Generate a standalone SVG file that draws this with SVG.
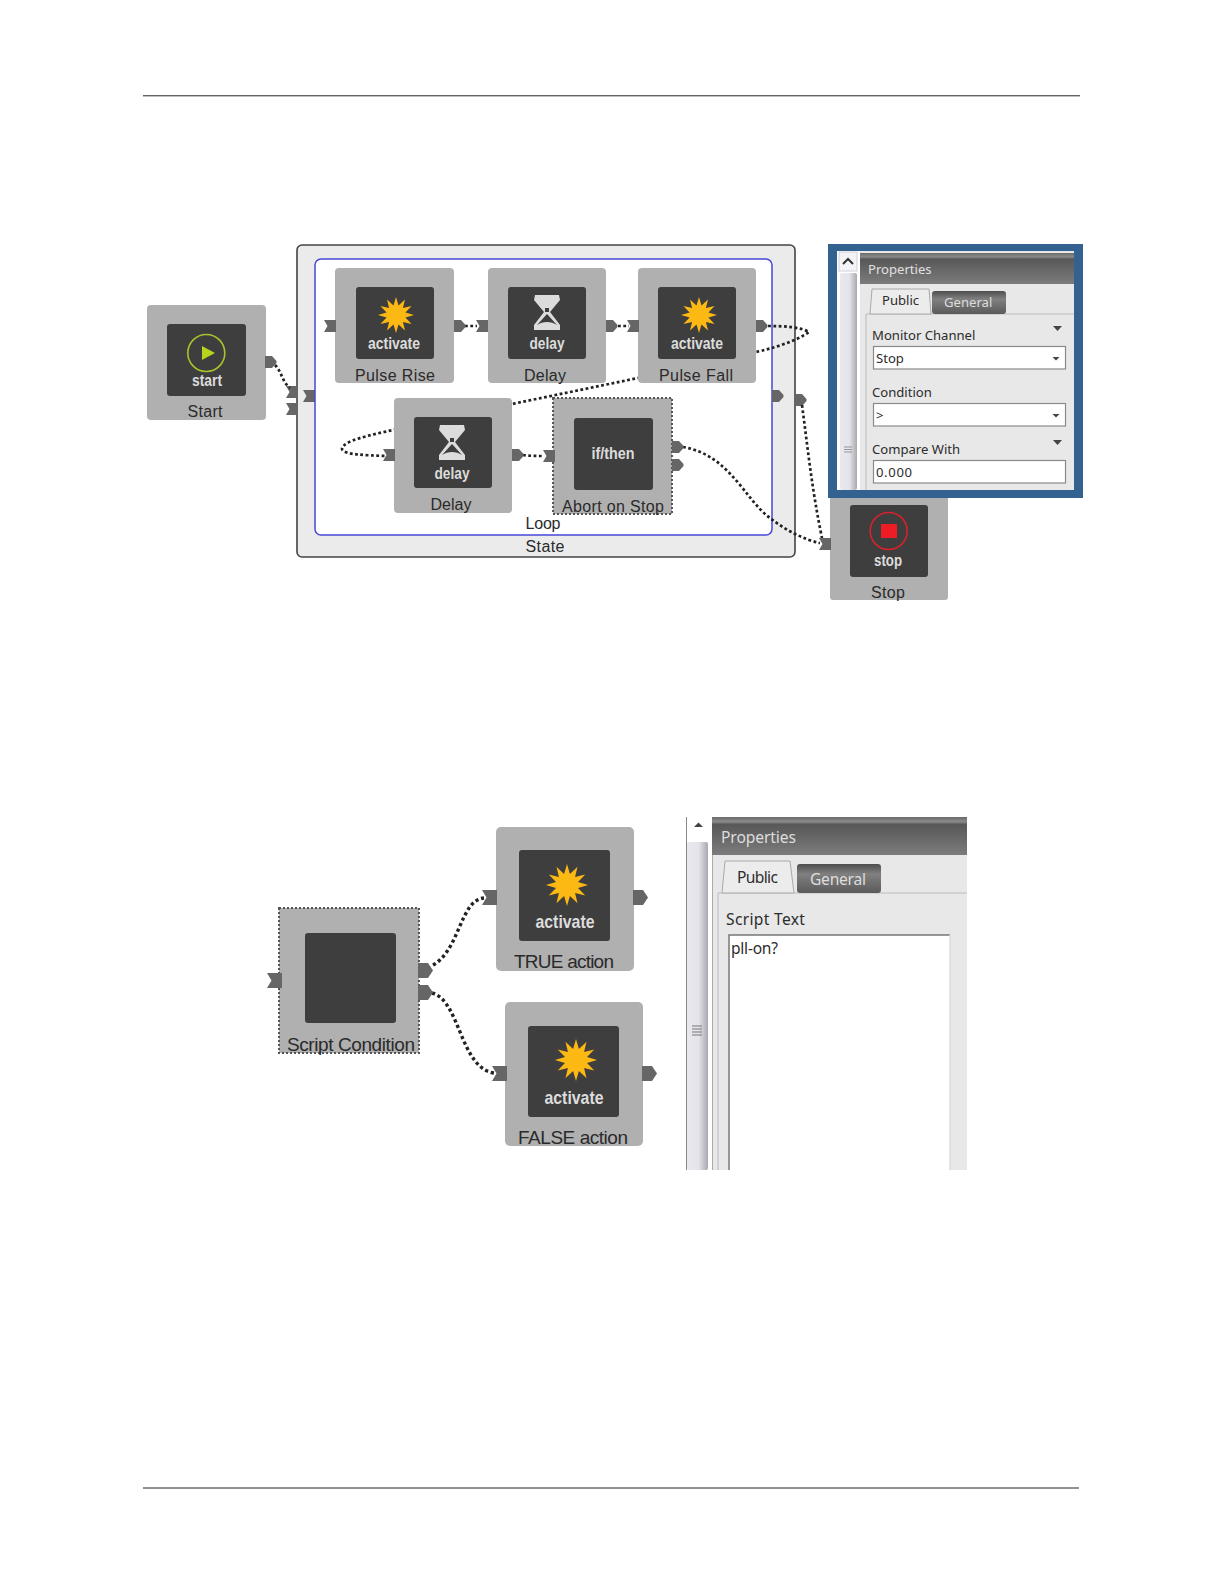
<svg xmlns="http://www.w3.org/2000/svg" width="1224" height="1584" viewBox="0 0 1224 1584">
<style>
text{font-family:"Liberation Sans",Arial,sans-serif}
.node{fill:#b0b0b0}
.dark{fill:#3e3e3e}
.lbl{font-size:16px;fill:#2a2a2a;text-anchor:middle}
.lbl2{font-size:19px;fill:#2a2a2a;text-anchor:middle}
.ico{font-size:16px;font-weight:bold;fill:#dcdcdc;text-anchor:middle}
.ico2{font-size:19px;font-weight:bold;fill:#dcdcdc;text-anchor:middle}
.port{fill:#666}
.sel{fill:none;stroke:#555;stroke-width:2;stroke-dasharray:2 2}
.wire{fill:none;stroke:#222;stroke-width:2.7;stroke-dasharray:2.8 2.5}
.wire2{fill:none;stroke:#222;stroke-width:3.4;stroke-dasharray:3.2 2.8}
.ui{font-family:"Noto Sans","Open Sans",sans-serif;font-size:13.1px;fill:#2c2c2c}
.ui2{font-family:"Noto Sans","Open Sans",sans-serif;font-size:15.6px;fill:#2c2c2c}
.field{fill:#fff;stroke:#8a8a8a;stroke-width:1.2}
.tri{fill:#444}
</style>
<defs>
<polygon id="star" fill="#fdb913" points="0,-18 2.5,-9.400 9,-15.600 6.900,-6.900 15.600,-9 9.400,-2.500 18,0 9.400,2.500 15.600,9 6.900,6.900 9,15.600 2.500,9.400 0,18 -2.500,9.400 -9,15.600 -6.900,6.900 -15.600,9 -9.400,2.500 -18,0 -9.400,-2.500 -15.600,-9 -6.900,-6.900 -9,-15.600 -2.500,-9.400"/>
<g id="glass"><path fill="#dcdcdc" d="M-12 0H12L13 5L3 17L13 30V35H-13V30L-3 17L-13 5Z"/><path fill="#3e3e3e" d="M0 19L10 30C4 26 -4 26 -10 30ZM-2 13H2V17H-2Z"/></g>
<polygon id="in" class="port" points="0,0 12,0 12,12 0,12 3.500,6"/>
<path id="out" class="port" d="M0 0H7L11.500 5L11.500 7L7 12H0Z"/>
<polygon id="in2" class="port" points="0,0 15,0 15,15 0,15 4.500,7.500"/>
<path id="out2" class="port" d="M0 0H10L15 7.500L10 15H0Z"/>
<linearGradient id="hdr" x1="0" y1="0" x2="0" y2="1"><stop offset="0" stop-color="#6a6a6a"/><stop offset=".12" stop-color="#8a8a8a"/><stop offset=".2" stop-color="#585858"/><stop offset="1" stop-color="#7c7c7c"/></linearGradient>
<linearGradient id="tab" x1="0" y1="0" x2="0" y2="1"><stop offset="0" stop-color="#4e4e4e"/><stop offset=".35" stop-color="#808080"/><stop offset="1" stop-color="#5a5a5a"/></linearGradient>
<linearGradient id="sb" x1="0" y1="0" x2="1" y2="0"><stop offset="0" stop-color="#e8e8ee"/><stop offset=".55" stop-color="#e4e4ea"/><stop offset="1" stop-color="#a8a8b0"/></linearGradient>
</defs>
<rect width="1224" height="1584" fill="#fff"/>
<line x1="143" y1="95.800" x2="1080" y2="95.800" stroke="#222" stroke-width="1"/>
<line x1="143" y1="1488" x2="1079" y2="1488" stroke="#222" stroke-width="1"/>

<g id="state"><rect x="297" y="245" width="498" height="312" rx="5" fill="#ebebeb" stroke="#444" stroke-width="1.600"/><text class="lbl" x="545" y="552" textLength="39">State</text>
<use href="#in" x="303" y="390"/><use href="#in" x="286" y="386"/><use href="#in" x="286" y="403"/><use href="#out" x="795" y="394"/></g>
<g id="loop"><rect x="315" y="259" width="457" height="276" rx="6" fill="#fff" stroke="#4848d8" stroke-width="1.500"/><text class="lbl" x="543" y="529" textLength="35">Loop</text><use href="#out" x="772" y="390"/></g>

<g id="connectors">
<path class="wire" d="M275 365C282 372 282 382 290 388"/>
<path class="wire" d="M465 326H477"/>
<path class="wire" d="M618 326H629"/>
<path class="wire" d="M768 326C785 326 800 327 809 332C795 342 770 349 756 352L638 378L512 404L393 430C370 435 342 441 342 449C344 455 365 455 385 456"/>
<path class="wire" d="M523 455C530 456 537 456 544 456"/>
<path class="wire" d="M683 447C730 455 745 500 770 518C785 530 805 540 820 543"/>
<path class="wire" d="M802 405C808 450 812 490 822 538"/>
<path class="wire2" d="M433 965C460 950 460 900 484 898"/>
<path class="wire2" d="M432 993C460 1000 460 1068 494 1073"/>
</g>

<g id="start"><rect class="node" x="147" y="305" width="119" height="115" rx="4"/><rect class="dark" x="167" y="324" width="79" height="72" rx="3"/><circle cx="206.300" cy="353" r="18.500" fill="none" stroke="#a6c62c" stroke-width="1.600"/><polygon points="202,346 215,353 202,360" fill="#b5d41e"/><text class="ico" x="207" y="386" textLength="30" lengthAdjust="spacingAndGlyphs">start</text><text class="lbl" x="205" y="417" textLength="35">Start</text><use href="#out" x="265" y="356"/></g>

<g id="pulse-rise"><rect class="node" x="335" y="268" width="119" height="115" rx="4"/><rect class="dark" x="356" y="287" width="78" height="72" rx="3"/><use href="#star" x="396" y="315"/><text class="ico" x="394" y="349" textLength="52" lengthAdjust="spacingAndGlyphs">activate</text><text class="lbl" x="395" y="380.500" textLength="80">Pulse Rise</text><use href="#in" x="324" y="320"/><use href="#out" x="454" y="320"/></g>

<g id="delay1"><rect class="node" x="488" y="268" width="118" height="115" rx="4"/><rect class="dark" x="508" y="287" width="78" height="72" rx="3"/><use href="#glass" x="547" y="295"/><text class="ico" x="547" y="349" textLength="35" lengthAdjust="spacingAndGlyphs">delay</text><text class="lbl" x="545" y="380.500" textLength="42">Delay</text><use href="#in" x="476" y="320"/><use href="#out" x="606" y="320"/></g>

<g id="pulse-fall"><rect class="node" x="638" y="268" width="118" height="115" rx="4"/><rect class="dark" x="658" y="287" width="78" height="72" rx="3"/><use href="#star" x="699" y="315"/><text class="ico" x="697" y="349" textLength="52" lengthAdjust="spacingAndGlyphs">activate</text><text class="lbl" x="696" y="380.500" textLength="74">Pulse Fall</text><use href="#in" x="627" y="320"/><use href="#out" x="756" y="320"/></g>

<g id="delay2"><rect class="node" x="394" y="398" width="118" height="115" rx="4"/><rect class="dark" x="414" y="417" width="78" height="71" rx="3"/><use href="#glass" x="452" y="425"/><text class="ico" x="452" y="479" textLength="35" lengthAdjust="spacingAndGlyphs">delay</text><text class="lbl" x="451" y="510" textLength="41">Delay</text><use href="#in" x="383" y="449"/><use href="#out" x="512" y="449"/></g>

<g id="abort"><rect class="node" x="553" y="398" width="119" height="116"/><rect class="sel" x="553" y="398" width="119" height="116"/><rect class="dark" x="574" y="418" width="79" height="72" rx="3"/><text class="ico" x="613" y="459" textLength="43" lengthAdjust="spacingAndGlyphs">if/then</text><text class="lbl" x="613" y="512" textLength="102">Abort on Stop</text><use href="#in" x="543" y="450"/><use href="#out" x="672" y="441"/><use href="#out" x="672" y="459"/></g>

<g id="stop"><path class="node" d="M830 490H948V597Q948 600 945 600H833Q830 600 830 597Z"/><rect class="dark" x="850" y="505" width="78" height="72" rx="3"/><circle cx="888.700" cy="531" r="18.500" fill="none" stroke="#d6222a" stroke-width="1.600"/><rect x="881" y="524" width="16" height="14" fill="#ee1c25"/><text class="ico" x="888" y="566" textLength="28" lengthAdjust="spacingAndGlyphs">stop</text><text class="lbl" x="888" y="598" textLength="34">Stop</text><use href="#in" x="819" y="538"/></g>

<g id="panel1">
<rect x="828" y="244" width="255" height="254" fill="#336190"/>
<rect x="837" y="251" width="237" height="239" fill="#e8e8e8"/>
<rect x="837" y="251" width="23" height="239" fill="#fff"/>
<rect x="839" y="252" width="18" height="19" fill="#f4f4f8" stroke="#c8c8d0" stroke-width=".8"/>
<path d="M843 264L848 259L853 264" fill="none" stroke="#333" stroke-width="2"/>
<rect x="840" y="273" width="17" height="217" rx="2" fill="url(#sb)"/>
<path d="M844 447H852M844 449.500H852M844 452H852" stroke="#999" stroke-width="1"/>
<rect x="860" y="253" width="214" height="31" fill="url(#hdr)"/>
<text class="ui" x="868" y="274" style="fill:#e0e0e0">Properties</text>
<path d="M866 490V314H1074" fill="none" stroke="#bbb" stroke-width="1"/>
<rect x="932" y="291" width="74" height="23" rx="3" fill="url(#tab)"/>
<text class="ui" x="944" y="307" style="fill:#ddd">General</text>
<path d="M870 314L872 289H929L931 314Z" fill="#ececec" stroke="#aaa" stroke-width="1"/>
<text class="ui" x="882" y="305">Public</text>
<text class="ui" x="872" y="339.500">Monitor Channel</text>
<polygon class="tri" points="1053,326 1062,326 1057.500,331"/>
<rect class="field" x="873.500" y="346.500" width="192" height="22.500"/>
<text class="ui" x="876" y="363">Stop</text>
<polygon class="tri" points="1052.500,357 1059.500,357 1056,360.500"/>
<text class="ui" x="872" y="396.500">Condition</text>
<rect class="field" x="873.500" y="403.500" width="192" height="22.500"/>
<text class="ui" x="876" y="420">&gt;</text>
<polygon class="tri" points="1052.500,414 1059.500,414 1056,417.500"/>
<text class="ui" x="872" y="453.500">Compare With</text>
<polygon class="tri" points="1053,440 1062,440 1057.500,445"/>
<rect class="field" x="873.500" y="460.500" width="192" height="22.500"/>
<text class="ui" x="876" y="477" textLength="36">0.000</text>
</g>

<g id="script"><rect class="node" x="279" y="908" width="140" height="145"/><rect class="sel" x="279" y="908" width="140" height="145"/><rect class="dark" x="305" y="933" width="91" height="90" rx="3"/><text class="lbl2" x="351" y="1051" textLength="128">Script Condition</text><use href="#in2" x="267" y="973"/><use href="#out2" x="418" y="963"/><use href="#out2" x="418" y="985"/></g>

<g id="true-action"><rect class="node" x="496" y="827" width="138" height="144" rx="5"/><rect class="dark" x="519" y="850" width="91" height="91" rx="3"/><use href="#star" transform="translate(567 885) scale(1.170)"/><text class="ico2" x="565" y="928" textLength="59" lengthAdjust="spacingAndGlyphs">activate</text><text class="lbl2" x="564" y="968" textLength="100">TRUE action</text><use href="#in2" x="482" y="890"/><use href="#out2" x="633" y="890"/></g>

<g id="false-action"><rect class="node" x="505" y="1002" width="138" height="144" rx="5"/><rect class="dark" x="528" y="1026" width="91" height="91" rx="3"/><use href="#star" transform="translate(576 1060) scale(1.170)"/><text class="ico2" x="574" y="1104" textLength="59" lengthAdjust="spacingAndGlyphs">activate</text><text class="lbl2" x="573" y="1144" textLength="110">FALSE action</text><use href="#in2" x="492" y="1066"/><use href="#out2" x="642" y="1066"/></g>

<g id="panel2">
<rect x="686" y="817" width="281" height="353" fill="#e8e8e8"/>
<rect x="686" y="817" width="26" height="353" fill="#fff"/>
<line x1="686.500" y1="817" x2="686.500" y2="1170" stroke="#888"/>
<polygon points="694,827 703,827 698.500,822.500" fill="#444"/>
<rect x="687" y="842" width="21" height="328" rx="2" fill="url(#sb)"/>
<path d="M692 1026H702M692 1029H702M692 1032H702M692 1035H702" stroke="#777" stroke-width="1"/>
<line x1="712.500" y1="817" x2="712.500" y2="1170" stroke="#aaa"/>
<rect x="712" y="817" width="255" height="38" fill="url(#hdr)"/>
<text class="ui2" x="721" y="843" style="fill:#ddd" textLength="75">Properties</text>
<path d="M718 1170V893H967" fill="none" stroke="#bbb" stroke-width="1"/>
<rect x="797" y="864" width="84" height="29" rx="3" fill="url(#tab)"/>
<text class="ui2" x="810" y="885" style="fill:#ddd" textLength="56">General</text>
<path d="M722 893L725 861H790L794 893Z" fill="#ececec" stroke="#aaa" stroke-width="1"/>
<text class="ui2" x="737" y="883" textLength="41">Public</text>
<text class="ui2" x="726" y="925" textLength="79">Script Text</text>
<rect x="729" y="935" width="221" height="235" fill="#fff"/>
<path d="M729 1170V935H950" fill="none" stroke="#777" stroke-width="1.500"/>
<path d="M950 935V1170" fill="none" stroke="#ddd" stroke-width="1.500"/>
<text class="ui2" x="731" y="954" textLength="47">pll-on?</text>
</g>
</svg>
